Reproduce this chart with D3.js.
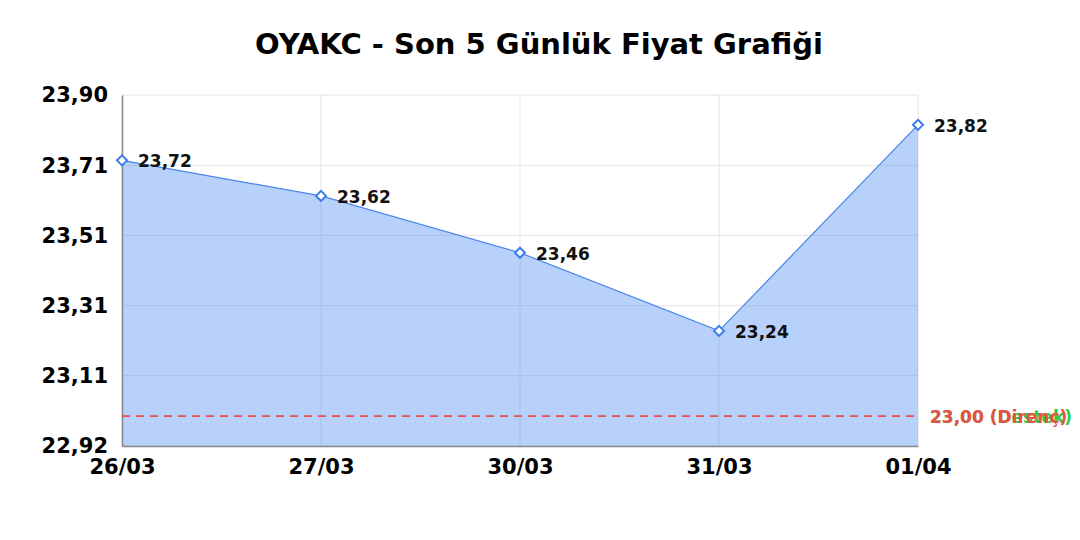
<!DOCTYPE html>
<html>
<head>
<meta charset="utf-8">
<script src="https://cdn.jsdelivr.net/npm/d3@7"></script>
<style>
  body { margin: 0; background: #fff; }
  svg text { font-family: "DejaVu Sans", sans-serif; font-weight: bold; }
</style>
</head>
<body>
<svg width="1080" height="540"></svg>
<script>
var dates = ["26/03", "27/03", "30/03", "31/03", "01/04"];
var prices = [23.72, 23.62, 23.46, 23.24, 23.82];
var yTickValues = [22.916, 23.114, 23.311, 23.509, 23.706, 23.904];
var yTickLabels = ["22,92", "23,11", "23,31", "23,51", "23,71", "23,90"];
var supportLevel = 23.00;
var resistanceLevel = 23.00;

var svg = d3.select("svg");
var plotLeft = 122, plotRight = 918, plotTop = 95, plotBottom = 446;

var x = d3.scalePoint().domain(dates).range([plotLeft, plotRight]);
var y = d3.scaleLinear()
  .domain([yTickValues[0], yTickValues[yTickValues.length - 1]])
  .range([plotBottom, plotTop]);

svg.append("text")
  .attr("x", 539).attr("y", 54)
  .attr("text-anchor", "middle")
  .attr("font-size", 29)
  .text("OYAKC - Son 5 Günlük Fiyat Grafiği");

// grid
svg.append("g")
  .selectAll("line")
  .data(yTickValues)
  .enter().append("line")
  .attr("x1", plotLeft).attr("x2", plotRight)
  .attr("y1", d => y(d)).attr("y2", d => y(d))
  .attr("stroke", "#e5e5e5");

svg.append("g")
  .selectAll("line")
  .data(dates)
  .enter().append("line")
  .attr("x1", d => x(d)).attr("x2", d => x(d))
  .attr("y1", plotTop).attr("y2", plotBottom)
  .attr("stroke", "#e5e5e5");

var pts = dates.map((d, i) => ({ date: d, price: prices[i] }));

svg.append("path")
  .datum(pts)
  .attr("fill", "rgba(66,133,244,0.38)")
  .attr("d", d3.area().x(d => x(d.date)).y0(plotBottom).y1(d => y(d.price)));

svg.append("path")
  .datum(pts)
  .attr("fill", "none")
  .attr("stroke", "#4a86e8")
  .attr("stroke-width", 1.2)
  .attr("d", d3.line().x(d => x(d.date)).y(d => y(d.price)));

// axes
var yAxis = d3.axisLeft(y)
  .tickValues(yTickValues)
  .tickFormat((d, i) => yTickLabels[i])
  .tickSize(0).tickPadding(14);
var gy = svg.append("g").attr("transform", "translate(" + plotLeft + ",0)").call(yAxis);
gy.select(".domain").attr("stroke", "#888").attr("stroke-width", 1.5);
gy.selectAll("text").attr("font-size", 21).attr("fill", "#000")
  .attr("font-family", "DejaVu Sans").attr("font-weight", "bold");

var xAxis = d3.axisBottom(x).tickSize(0).tickPadding(13);
var gx = svg.append("g").attr("transform", "translate(0," + plotBottom + ")").call(xAxis);
gx.select(".domain").attr("stroke", "#888").attr("stroke-width", 1.5);
gx.selectAll("text").attr("font-size", 21).attr("fill", "#000")
  .attr("font-family", "DejaVu Sans").attr("font-weight", "bold");

// support / resistance
svg.append("line")
  .attr("x1", plotLeft).attr("x2", plotRight)
  .attr("y1", y(supportLevel)).attr("y2", y(supportLevel))
  .attr("stroke", "#2ecc71").attr("stroke-width", 1)
  .attr("stroke-dasharray", "8,6");
svg.append("line")
  .attr("x1", plotLeft).attr("x2", plotRight)
  .attr("y1", y(resistanceLevel)).attr("y2", y(resistanceLevel))
  .attr("stroke", "#ee5050").attr("stroke-width", 1.6)
  .attr("stroke-dasharray", "8,6");
svg.append("text")
  .attr("x", plotRight + 12).attr("y", y(supportLevel) + 7)
  .attr("font-size", 17).attr("fill", "#2ecc40")
  .text("23,00 (Destek)");
svg.append("text")
  .attr("x", plotRight + 12).attr("y", y(resistanceLevel) + 7)
  .attr("font-size", 17).attr("fill", "#e8504a")
  .text("23,00 (Direnç)");

// markers
svg.append("g")
  .selectAll("path")
  .data(pts)
  .enter().append("path")
  .attr("d", d3.symbol().type(d3.symbolDiamond2).size(64))
  .attr("transform", d => "translate(" + x(d.date) + "," + y(d.price) + ")")
  .attr("fill", "#fff")
  .attr("stroke", "#3b7be8")
  .attr("stroke-width", 2);

svg.append("g")
  .selectAll("text")
  .data(pts)
  .enter().append("text")
  .attr("x", d => x(d.date) + 16)
  .attr("y", d => y(d.price) + 7)
  .attr("font-size", 17)
  .attr("fill", "#111")
  .text(d => d3.format(".2f")(d.price).replace(".", ","));
</script>
</body>
</html>
